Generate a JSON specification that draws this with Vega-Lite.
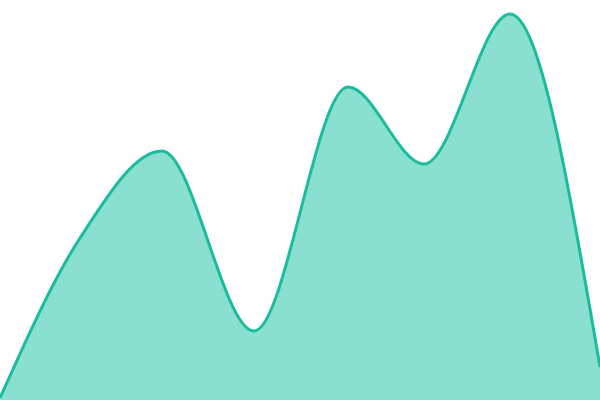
{
  "$schema": "https://vega.github.io/schema/vega-lite/v6.json",
  "width": 600,
  "height": 400,
  "autosize": {"type": "fit", "contains": "padding"},
  "padding": 0,
  "data": {
    "values": [
      {"step": 0, "value": 2},
      {"step": 8, "value": 162},
      {"step": 16.2, "value": 249},
      {"step": 25.4, "value": 69},
      {"step": 34.8, "value": 313},
      {"step": 42.4, "value": 236},
      {"step": 51, "value": 386},
      {"step": 60, "value": 33}
    ]
  },
  "mark": {
    "type": "area",
    "interpolate": "monotone",
    "color": "#89e0d0",
    "opacity": 1,
    "line": {"color": "#1abc9c", "strokeWidth": 3},
    "clip": true
  },
  "encoding": {
    "x": {"field": "step", "type": "quantitative", "axis": null, "scale": {"domain": [0, 60], "nice": false, "zero": false}},
    "y": {"field": "value", "type": "quantitative", "axis": null, "scale": {"domain": [0, 400], "nice": false}}
  },
  "config": {"view": {"stroke": null}}
}
